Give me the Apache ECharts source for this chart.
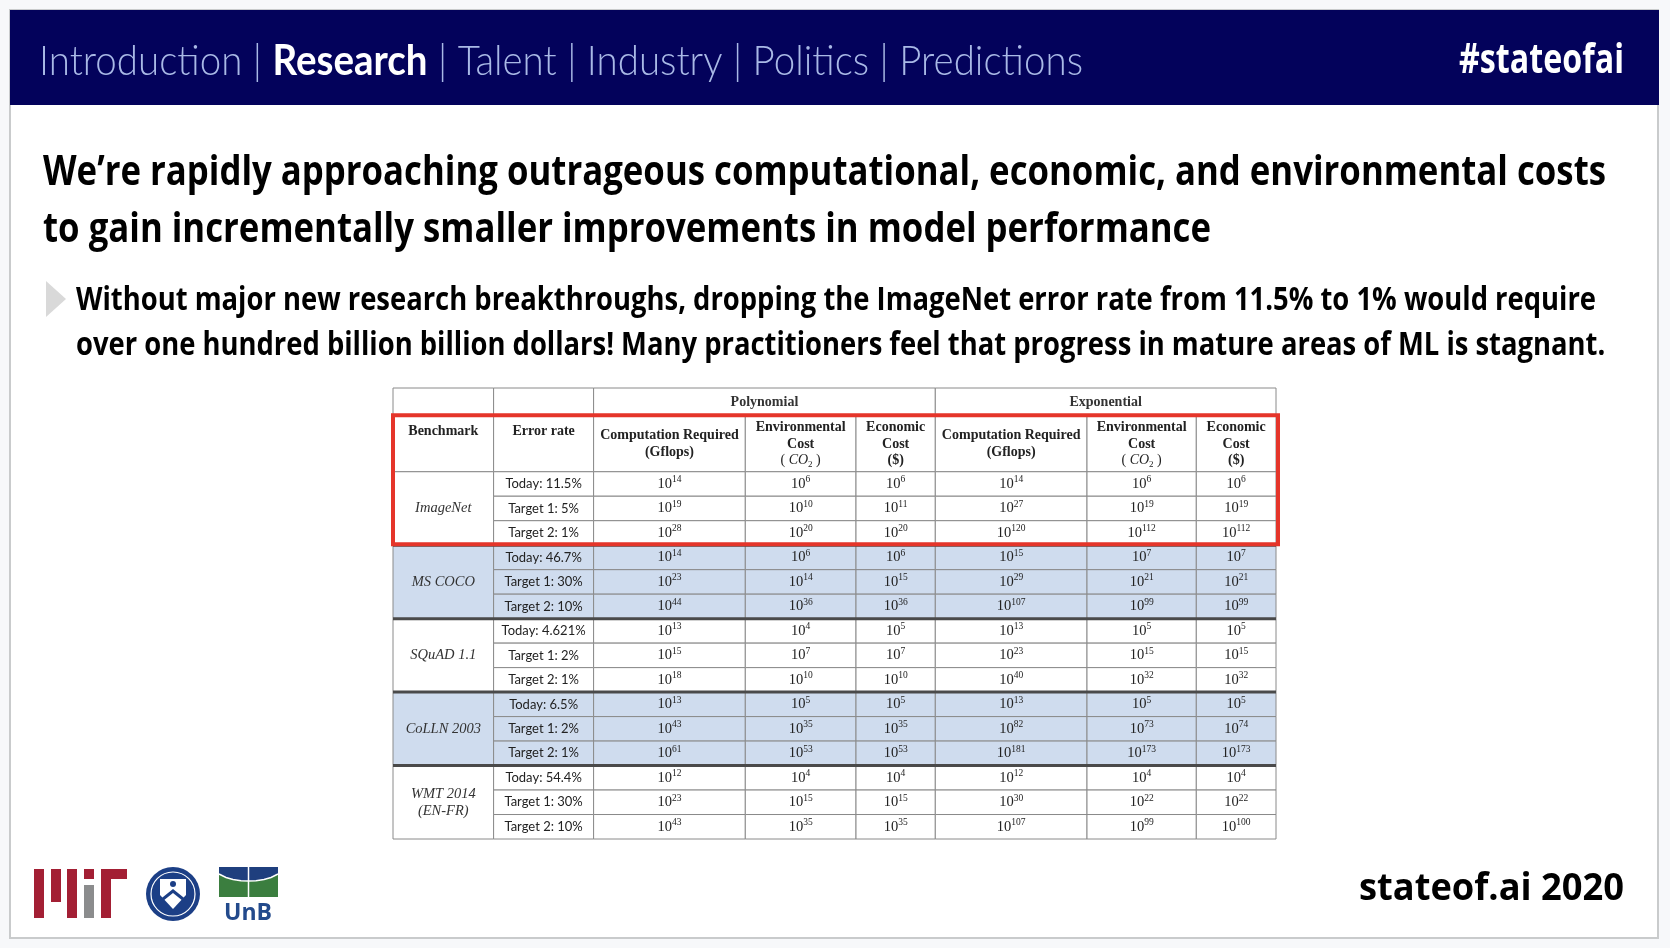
<!DOCTYPE html>
<html>
<head>
<meta charset="utf-8">
<title>stateof.ai 2020 - cost of lowering error rates</title>
<script src="https://cdn.jsdelivr.net/npm/echarts@6/dist/echarts.min.js"></script>
<style>
  html, body { margin: 0; padding: 0; background: #f7f8fa; }
  #main { width: 1670px; height: 948px; }
</style>
</head>
<body>
<div id="main"></div>
<script>
// table content (exponents of ten)
var benchmarks = ['ImageNet', 'MS COCO', 'SQuAD 1.1', 'CoLLN 2003', 'WMT 2014\n(EN-FR)'];
var errorRates = [
  'Today: 11.5%', 'Target 1: 5%', 'Target 2: 1%',
  'Today: 46.7%', 'Target 1: 30%', 'Target 2: 10%',
  'Today: 4.621%', 'Target 1: 2%', 'Target 2: 1%',
  'Today: 6.5%', 'Target 1: 2%', 'Target 2: 1%',
  'Today: 54.4%', 'Target 1: 30%', 'Target 2: 10%'
];
var groupNames = ['Polynomial', 'Exponential'];
var colHeads = [
  'Benchmark', 'Error rate',
  'Computation Required\n(Gflops)', 'Environmental\nCost\n{p|( }{it|CO}{sub|2}{p| )}', 'Economic\nCost\n($)',
  'Computation Required\n(Gflops)', 'Environmental\nCost\n{p|( }{it|CO}{sub|2}{p| )}', 'Economic\nCost\n($)'
];
var polyCompute = [14, 19, 28, 14, 23, 44, 13, 15, 18, 13, 43, 61, 12, 23, 43];
var polyEnv     = [6, 10, 20, 6, 14, 36, 4, 7, 10, 5, 35, 53, 4, 15, 35];
var polyEcon    = [6, 11, 20, 6, 15, 36, 5, 7, 10, 5, 35, 53, 4, 15, 35];
var expCompute  = [14, 27, 120, 15, 29, 107, 13, 23, 40, 13, 82, 181, 12, 30, 107];
var expEnv      = [6, 19, 112, 7, 21, 99, 5, 15, 32, 5, 73, 173, 4, 22, 99];
var expEcon     = [6, 19, 112, 7, 21, 99, 5, 15, 32, 5, 74, 173, 4, 22, 100];
var shadedGroups = [1, 3];
var highlightGroup = 0;

// layout of the table
var COL_W = [100.6, 100, 151.7, 110.7, 79.3, 151.7, 109.3, 79.7];
var ROW_H = [1.15, 2.27].concat(errorRates.map(function () { return 1; }));
var colEdges = [0];
COL_W.forEach(function (w) { colEdges.push(colEdges[colEdges.length - 1] + w); });
var rowEdges = [0];
ROW_H.forEach(function (h) { rowEdges.push(rowEdges[rowEdges.length - 1] + h); });
var TOTAL_W = colEdges[colEdges.length - 1];
var TOTAL_H = rowEdges[rowEdges.length - 1];

var SHADE = '#cfdcee';
var GRID_LINE = '#8a8a8a';
var INK = '#222222';
var SERIF = '"Liberation Serif", "DejaVu Serif", serif';

var CELL_STYLE = {
  blank: {},
  group: { fontFamily: SERIF, fontSize: 14, fontWeight: 'bold', fill: '#333' },
  head: { fontFamily: SERIF, fontSize: 14, fontWeight: 'bold', lineHeight: 16.5, fill: INK,
    rich: {
      p: { fontFamily: SERIF, fontSize: 14, fill: INK },
      it: { fontFamily: SERIF, fontSize: 14, fontStyle: 'italic', fill: INK },
      sub: { fontFamily: SERIF, fontSize: 9, fill: INK, verticalAlign: 'bottom', lineHeight: 14 }
    } },
  headTop: { fontFamily: SERIF, fontSize: 14, fontWeight: 'bold', fill: INK },
  bench: { fontFamily: SERIF, fontSize: 14.5, fontStyle: 'italic', lineHeight: 17, fill: '#333' },
  rate: { fontFamily: 'Lato, "Open Sans", sans-serif', fontSize: 13, fill: INK },
  value: { fontFamily: SERIF, fontSize: 14.5, lineHeight: 18, fill: INK,
    rich: { sup: { fontFamily: SERIF, fontSize: 9.5, lineHeight: 10, verticalAlign: 'top', fill: INK } } }
};

// build cell list from the arrays above
var cells = [];
function addCell(c0, c1, r0, r1, text, kind, shaded) {
  cells.push({ c0: c0, c1: c1, r0: r0, r1: r1, text: text, kind: kind, shaded: !!shaded });
}
addCell(0, 1, 0, 1, '', 'blank');
addCell(1, 2, 0, 1, '', 'blank');
groupNames.forEach(function (g, i) { addCell(2 + 3 * i, 5 + 3 * i, 0, 1, g, 'group'); });
colHeads.forEach(function (h, i) { addCell(i, i + 1, 1, 2, h, i < 2 ? 'headTop' : 'head'); });
var valueCols = [polyCompute, polyEnv, polyEcon, expCompute, expEnv, expEcon];
benchmarks.forEach(function (b, g) {
  var shaded = shadedGroups.indexOf(g) >= 0;
  addCell(0, 1, 2 + 3 * g, 5 + 3 * g, b, 'bench', shaded);
  for (var k = 0; k < 3; k++) {
    var r = 3 * g + k;
    addCell(1, 2, 2 + r, 3 + r, errorRates[r], 'rate', shaded);
    valueCols.forEach(function (col, j) {
      addCell(2 + j, 3 + j, 2 + r, 3 + r, '10{sup|' + col[r] + '}', 'value', shaded);
    });
  }
});
var cellData = cells.map(function (c) {
  return [colEdges[c.c0], rowEdges[c.r0], colEdges[c.c1], rowEdges[c.r1]];
});
// thick lines between benchmark groups
var sepData = benchmarks.slice(1).map(function (b, i) { return [0, rowEdges[2 + 3 * (i + 1)], TOTAL_W]; });
var boxData = [[0, rowEdges[1], TOTAL_W, rowEdges[5 + 3 * highlightGroup]]];

function renderCell(params, api) {
  var cell = cells[params.dataIndex];
  var p0 = api.coord([api.value(0), api.value(1)]);
  var p1 = api.coord([api.value(2), api.value(3)]);
  var x = p0[0], y = p0[1], w = p1[0] - p0[0], h = p1[1] - p0[1];
  var ty = cell.kind === 'headTop' ? y + 15 : y + h / 2;
  var st = Object.assign({ legacy: false, text: cell.text, align: 'center', verticalAlign: 'middle',
    textAlign: 'center', textVerticalAlign: 'middle' }, CELL_STYLE[cell.kind]);
  return {
    type: 'group',
    children: [
      { type: 'rect', shape: { x: x, y: y, width: w, height: h },
        style: { fill: cell.shaded ? SHADE : '#ffffff', stroke: GRID_LINE, lineWidth: 1 } },
      { type: 'text', x: x + w / 2, y: ty, style: st }
    ]
  };
}
function renderSep(params, api) {
  var a = api.coord([api.value(0), api.value(1)]);
  var b = api.coord([api.value(2), api.value(1)]);
  return { type: 'line', shape: { x1: a[0], y1: a[1], x2: b[0], y2: b[1] },
    style: { stroke: '#4a4a4a', lineWidth: 3 } };
}
function renderBox(params, api) {
  var p0 = api.coord([api.value(0), api.value(1)]);
  var p1 = api.coord([api.value(2), api.value(3)]);
  return { type: 'rect', shape: { x: p0[0], y: p0[1] - 1, width: p1[0] - p0[0] + 2, height: p1[1] - p0[1] },
    style: { fill: 'none', stroke: '#e5352a', lineWidth: 4 } };
}

// slide text, squeezed horizontally to the widths on the slide
var measureCtx = document.createElement('canvas').getContext('2d');
function textWidth(font, text) { measureCtx.font = font; return measureCtx.measureText(text).width; }

var SANS = '"Open Sans", "Noto Sans", sans-serif';
var navLight = '300 42px Lato';
var navBold = 'bold 42px Lato';
var navParts = ['Introduction | ', 'Research', ' | Talent | Industry | Politics | Predictions'];
var navW = textWidth(navLight, navParts[0]) + textWidth(navBold, navParts[1]) + textWidth(navLight, navParts[2]);
var navScale = 1044 / navW;

var titleLines = [
  'We\u2019re rapidly approaching outrageous computational, economic, and environmental costs',
  'to gain incrementally smaller improvements in model performance'
];
var titleFont = 'bold 41px ' + SANS;
var titleScale = 1563 / textWidth(titleFont, titleLines[0]);

var bulletLines = [
  'Without major new research breakthroughs, dropping the ImageNet error rate from 11.5% to 1% would require',
  'over one hundred billion billion dollars! Many practitioners feel that progress in mature areas of ML is stagnant.'
];
var bulletFont = 'bold 33px ' + SANS;
var bulletScale = 1520 / textWidth(bulletFont, bulletLines[0]);

var tagText = '#stateofai';
var tagFont = 'bold 42px ' + SANS;
var tagScale = 165 / textWidth(tagFont, tagText);

var footText = 'stateof.ai 2020';
var footFont = 'bold 37px ' + SANS;
var footScale = 265 / textWidth(footFont, footText);

function slideText(x, y, scale, text, font, fill, align) {
  return { type: 'text', x: x, y: y, scaleX: scale, z: 1,
    style: { legacy: false, text: text, font: font, fill: fill, align: align || 'left', verticalAlign: 'middle',
      textAlign: align || 'left', textVerticalAlign: 'middle' } };
}

var MIT_RED = '#a31f34';
var NAVY = '#1c3f86';
var unbArc = [[219, 874], [226, 877.5], [233, 879.5], [241, 880.7], [248.5, 881], [256, 880.7], [264, 879.5], [271, 877.5], [278, 874]];
var graphics = [
  { type: 'rect', z: 0, shape: { x: 10, y: 10, width: 1648, height: 928 },
    style: { fill: '#ffffff', stroke: '#c9cbcc', lineWidth: 2 } },
  { type: 'rect', z: 0, shape: { x: 10, y: 10, width: 1649, height: 95 }, style: { fill: '#03025b' } },
  { type: 'text', x: 39, y: 61, scaleX: navScale, z: 1,
    style: { legacy: false, text: '{l|' + navParts[0] + '}{b|' + navParts[1] + '}{l|' + navParts[2] + '}',
      verticalAlign: 'middle', textVerticalAlign: 'middle',
      rich: {
        l: { fontFamily: 'Lato', fontWeight: 300, fontSize: 42, fill: '#a9b9e6' },
        b: { fontFamily: 'Lato', fontWeight: 'bold', fontSize: 42, fill: '#ffffff' }
      } } },
  slideText(1624, 61, tagScale, tagText, tagFont, '#ffffff', 'right'),
  slideText(43, 173, titleScale, titleLines[0], titleFont, '#000000'),
  slideText(43, 230, titleScale, titleLines[1], titleFont, '#000000'),
  { type: 'polygon', z: 1, shape: { points: [[46, 281], [66, 299], [46, 317]] }, style: { fill: '#d9d9d9' } },
  slideText(76, 301, bulletScale, bulletLines[0], bulletFont, '#000000'),
  slideText(76, 346, bulletScale, bulletLines[1], bulletFont, '#000000'),
  slideText(1624, 889, footScale, footText, footFont, '#000000', 'right'),
  // MIT
  { type: 'rect', z: 1, shape: { x: 34, y: 869, width: 10, height: 49 }, style: { fill: MIT_RED } },
  { type: 'rect', z: 1, shape: { x: 51, y: 869, width: 10, height: 33 }, style: { fill: MIT_RED } },
  { type: 'rect', z: 1, shape: { x: 67, y: 869, width: 10, height: 49 }, style: { fill: MIT_RED } },
  { type: 'rect', z: 1, shape: { x: 84, y: 869, width: 10, height: 10 }, style: { fill: MIT_RED } },
  { type: 'rect', z: 1, shape: { x: 84, y: 885, width: 10, height: 33 }, style: { fill: '#8b8c8d' } },
  { type: 'rect', z: 1, shape: { x: 101, y: 869, width: 26, height: 10 }, style: { fill: MIT_RED } },
  { type: 'rect', z: 1, shape: { x: 101, y: 869, width: 10, height: 49 }, style: { fill: MIT_RED } },
  // Yonsei seal
  { type: 'circle', z: 1, shape: { cx: 173, cy: 894, r: 27 }, style: { fill: NAVY } },
  { type: 'circle', z: 1, shape: { cx: 173, cy: 894, r: 22 }, style: { fill: 'none', stroke: '#ffffff', lineWidth: 1.2 } },
  { type: 'polygon', z: 1, shape: { points: [[160, 879], [186, 879], [186, 895], [173, 909], [160, 895]] },
    style: { fill: '#ffffff' } },
  { type: 'polyline', z: 1, shape: { points: [[163, 899], [173, 891], [183, 899]] },
    style: { stroke: NAVY, lineWidth: 3, fill: 'none' } },
  { type: 'circle', z: 1, shape: { cx: 173, cy: 884, r: 3 }, style: { fill: NAVY } },
  // UnB
  { type: 'rect', z: 1, shape: { x: 219, y: 867, width: 59, height: 30 }, style: { fill: '#3b7e3f' } },
  { type: 'polygon', z: 1, shape: { points: [[219, 867], [278, 867]].concat(unbArc.slice().reverse()) },
    style: { fill: '#1f3f7e' } },
  { type: 'polyline', z: 1, shape: { points: unbArc }, style: { fill: 'none', stroke: '#ffffff', lineWidth: 1.5 } },
  { type: 'line', z: 1, shape: { x1: 248.5, y1: 867, x2: 248.5, y2: 897 }, style: { stroke: '#ffffff', lineWidth: 1.5 } },
  slideText(248, 913, 1, 'UnB', 'bold 23px ' + SANS, '#234a8c', 'center')
];

var chart = echarts.init(document.getElementById('main'));
chart.setOption({
  backgroundColor: '#f7f8fa',
  animation: false,
  graphic: { elements: graphics },
  grid: { left: 393, top: 388, width: 883, height: 451 },
  xAxis: { type: 'value', min: 0, max: TOTAL_W, show: false },
  yAxis: { type: 'value', min: 0, max: TOTAL_H, inverse: true, show: false },
  series: [
    { type: 'custom', z: 2, renderItem: renderCell, data: cellData, silent: true },
    { type: 'custom', z: 3, renderItem: renderSep, data: sepData, silent: true },
    { type: 'custom', z: 4, renderItem: renderBox, data: boxData, silent: true }
  ]
});
</script>
</body>
</html>
